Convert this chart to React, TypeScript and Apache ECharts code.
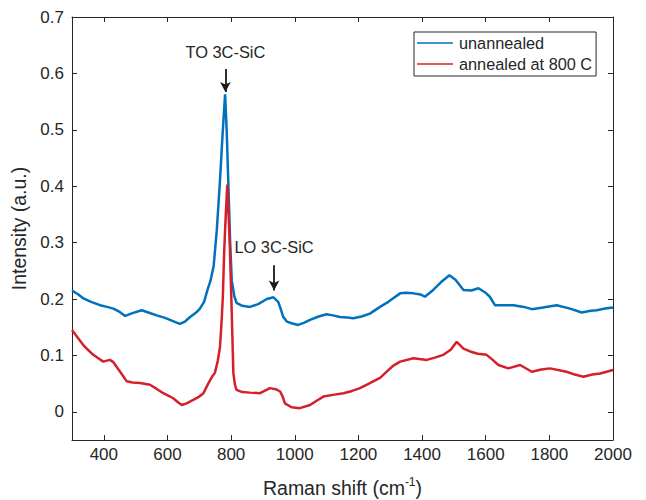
import React, { useEffect, useRef } from "react";
import * as echarts from "echarts";

// Raman shift (cm^-1) and intensity (a.u.)
const blueX = [300, 320, 336, 360, 388, 410, 430, 450, 467, 490, 519, 540, 566, 590, 608, 625, 639, 655, 671, 690, 702, 715, 725, 735, 745, 755, 765, 773, 781, 786, 791, 797, 802, 810, 817, 835, 859, 885, 912, 933, 948, 956, 964, 975, 990, 1011, 1030, 1048, 1075, 1100, 1120, 1142, 1165, 1184, 1210, 1236, 1268, 1294, 1331, 1350, 1373, 1395, 1409, 1435, 1460, 1486, 1505, 1530, 1555, 1577, 1600, 1613, 1629, 1645, 1687, 1720, 1745, 1780, 1823, 1865, 1902, 1930, 1949, 1975, 2000];
const blueY = [0.215, 0.208, 0.201, 0.195, 0.189, 0.186, 0.183, 0.177, 0.170, 0.175, 0.180, 0.176, 0.171, 0.167, 0.163, 0.159, 0.156, 0.160, 0.168, 0.176, 0.183, 0.195, 0.215, 0.232, 0.258, 0.322, 0.41, 0.49, 0.563, 0.50, 0.41, 0.30, 0.233, 0.205, 0.193, 0.188, 0.186, 0.191, 0.200, 0.203, 0.195, 0.182, 0.168, 0.160, 0.157, 0.154, 0.158, 0.163, 0.169, 0.173, 0.171, 0.168, 0.167, 0.166, 0.169, 0.174, 0.186, 0.195, 0.210, 0.211, 0.210, 0.208, 0.204, 0.216, 0.230, 0.242, 0.234, 0.216, 0.215, 0.219, 0.211, 0.204, 0.189, 0.189, 0.189, 0.186, 0.182, 0.185, 0.189, 0.183, 0.176, 0.179, 0.180, 0.183, 0.185];

const redX = [300, 320, 336, 350, 367, 385, 398, 419, 430, 440, 455, 472, 490, 514, 545, 565, 587, 605, 618, 635, 645, 660, 681, 700, 713, 728, 740, 749, 758, 765, 770, 774, 778, 781, 785, 788, 792, 796, 802, 807, 812, 817, 835, 859, 891, 922, 940, 954, 962, 969, 990, 1016, 1048, 1070, 1090, 1120, 1153, 1180, 1205, 1230, 1257, 1268, 1294, 1310, 1331, 1373, 1415, 1440, 1467, 1490, 1509, 1530, 1551, 1575, 1603, 1620, 1640, 1671, 1708, 1745, 1775, 1802, 1854, 1880, 1907, 1935, 1960, 2000];
const redY = [0.145, 0.130, 0.118, 0.110, 0.101, 0.094, 0.089, 0.092, 0.088, 0.080, 0.068, 0.054, 0.052, 0.051, 0.048, 0.041, 0.033, 0.028, 0.024, 0.016, 0.012, 0.015, 0.021, 0.027, 0.033, 0.050, 0.062, 0.069, 0.090, 0.115, 0.160, 0.204, 0.280, 0.322, 0.370, 0.403, 0.350, 0.292, 0.175, 0.069, 0.048, 0.039, 0.035, 0.034, 0.033, 0.042, 0.040, 0.036, 0.027, 0.015, 0.008, 0.0065, 0.012, 0.020, 0.027, 0.030, 0.033, 0.037, 0.042, 0.049, 0.057, 0.060, 0.074, 0.082, 0.089, 0.095, 0.092, 0.096, 0.101, 0.110, 0.124, 0.112, 0.107, 0.103, 0.101, 0.093, 0.083, 0.077, 0.083, 0.071, 0.075, 0.077, 0.071, 0.066, 0.062, 0.066, 0.068, 0.074];

const seriesNames = ["unannealed", "annealed at 800 C"];
const xTicks = [400, 600, 800, 1000, 1200, 1400, 1600, 1800, 2000];
const yTicks = [0, 0.1, 0.2, 0.3, 0.4, 0.5, 0.6, 0.7];

// annotations: [label, x, text y, arrow start y, arrow tip y]
const annotations: [string, number, number, number, number][] = [
  ["TO 3C-SiC", 782, 0.638, 0.608, 0.567],
  ["LO 3C-SiC", 935, 0.292, 0.26, 0.215],
];

const FONT = "'Liberation Sans', Arial, Helvetica, sans-serif";
const INK = "#262626";
const BLUE = "#0072BD";
const RED = "#D5202A";
const LEGEND_ICON = "path://M0 0H36V1.5H0Z";

export default function App() {
  const ref = useRef<HTMLDivElement>(null);
  useEffect(() => {
    document.body.style.margin = "0";
    const chart = echarts.init(ref.current!, null, { renderer: "svg" });
    const pair = (xs: number[], ys: number[]) => xs.map((x, i) => [x, ys[i]]);
    const axisBase = {
      axisLine: { show: true, onZero: false, lineStyle: { color: INK, width: 1 } },
      splitLine: { show: false },
    };
    chart.setOption({
      animation: false,
      backgroundColor: "#ffffff",
      textStyle: { fontFamily: FONT },
      grid: { left: 72, right: 33, top: 17, bottom: 60, containLabel: false, outerBoundsMode: "none" },
      legend: {
        orient: "vertical",
        left: 414,
        top: 32,
        data: [
          { name: seriesNames[0], icon: LEGEND_ICON, itemStyle: { color: BLUE } },
          { name: seriesNames[1], icon: LEGEND_ICON, itemStyle: { color: RED } },
        ],
        backgroundColor: "#ffffff",
        borderColor: INK,
        borderWidth: 1,
        padding: [3, 4, 4, 3],
        itemGap: 5,
        itemWidth: 36,
        itemHeight: 14,
        textStyle: { fontFamily: FONT, fontSize: 16.3, color: INK, padding: [0, 0, 0, 1] },
      },
      xAxis: [
        {
          type: "value",
          min: 300,
          max: 2000,
          ...axisBase,
          name: "{n|Raman shift (cm}{s|-1}{n|)}",
          nameLocation: "middle",
          nameGap: 36,
          nameTextStyle: {
            rich: {
              n: { fontFamily: FONT, fontSize: 19.5, color: INK },
              s: { fontFamily: FONT, fontSize: 12, color: INK, verticalAlign: "top", padding: [0, 0, 12, 0] },
            },
          },
          axisTick: { show: true, inside: true, length: 5, customValues: xTicks, lineStyle: { color: INK } },
          axisLabel: {
            customValues: xTicks,
            fontFamily: FONT,
            fontSize: 17,
            color: INK,
            margin: 6,
            formatter: (v: number) => String(v),
          },
        },
        {
          type: "value",
          position: "top",
          min: 300,
          max: 2000,
          ...axisBase,
          axisTick: { show: true, inside: true, length: 5, customValues: xTicks, lineStyle: { color: INK } },
          axisLabel: { show: false },
        },
      ],
      yAxis: [
        {
          type: "value",
          min: -0.05,
          max: 0.7,
          ...axisBase,
          name: "Intensity (a.u.)",
          nameLocation: "middle",
          nameGap: 32,
          nameTextStyle: { fontFamily: FONT, fontSize: 19.5, color: INK },
          axisTick: { show: true, inside: true, length: 5, customValues: yTicks, lineStyle: { color: INK } },
          axisLabel: {
            customValues: yTicks,
            fontFamily: FONT,
            fontSize: 17,
            color: INK,
            margin: 8,
            formatter: (v: number) => (Math.abs(v) < 1e-9 ? "0" : String(Math.round(v * 10) / 10)),
          },
        },
        {
          type: "value",
          position: "right",
          min: -0.05,
          max: 0.7,
          ...axisBase,
          axisTick: { show: true, inside: true, length: 5, customValues: yTicks, lineStyle: { color: INK } },
          axisLabel: { show: false },
        },
      ],
      series: [
        {
          name: seriesNames[0],
          type: "line",
          xAxisIndex: 0,
          yAxisIndex: 0,
          symbol: "none",
          data: pair(blueX, blueY),
          lineStyle: { color: BLUE, width: 2.5 },
          itemStyle: { color: BLUE },
          z: 2,
          markLine: {
            silent: true,
            symbol: ["none", "arrow"],
            symbolSize: [8, 10],
            label: { show: false },
            lineStyle: { color: "#1a1a1a", width: 1.8, type: "solid" },
            data: annotations.map((a) => [{ coord: [a[1], a[3]] }, { coord: [a[1], a[4]] }]),
          },
          markPoint: {
            silent: true,
            symbol: "rect",
            symbolSize: 0,
            label: {
              show: true,
              position: "inside",
              fontFamily: FONT,
              fontSize: 16.4,
              color: INK,
              formatter: (p: any) => p.name,
            },
            data: annotations.map((a) => ({ name: a[0], coord: [a[1], a[2]] })),
          },
        },
        {
          name: seriesNames[1],
          type: "line",
          xAxisIndex: 0,
          yAxisIndex: 0,
          symbol: "none",
          data: pair(redX, redY),
          lineStyle: { color: RED, width: 2.5 },
          itemStyle: { color: RED },
          z: 3,
        },
      ],
    });
    return () => chart.dispose();
  }, []);
  return (
    <div
      ref={ref}
      style={{ position: "fixed", left: 0, top: 0, width: 646, height: 500, background: "#fff" }}
    />
  );
}
